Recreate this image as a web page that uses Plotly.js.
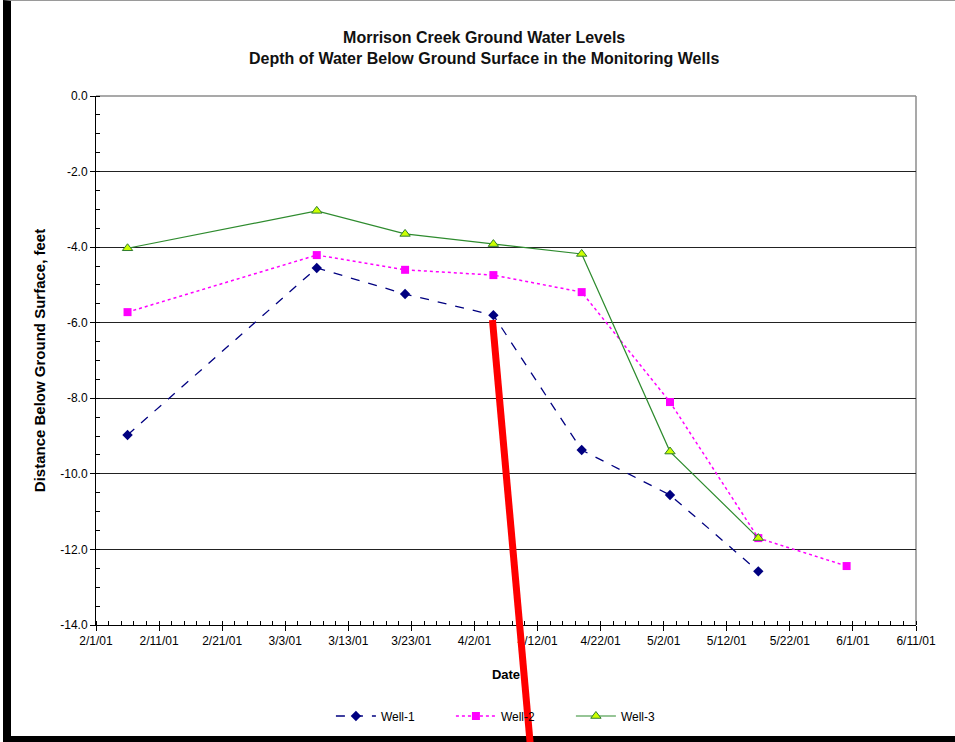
<!DOCTYPE html>
<html><head><meta charset="utf-8">
<script src="https://cdn.plot.ly/plotly-3.0.1.min.js"></script>
<style>
body{margin:0;background:#fff;}
#wrap{position:relative;width:955px;height:742px;overflow:hidden;background:#fff;}
#frame{position:absolute;left:3px;top:0;width:1000px;height:742px;box-sizing:border-box;border-left:8px solid #000;border-top:1px solid #9a9a9a;border-bottom:6px solid #000;}
#chart{position:absolute;left:0;top:0;width:955px;height:742px;}
</style></head><body>
<div id="wrap"><div id="frame"></div><div id="chart"></div></div>
<script>
// Sampling dates
const dates = ['2001-02-06','2001-03-08','2001-03-22','2001-04-05','2001-04-19','2001-05-03','2001-05-17','2001-05-31'];
// Depth of water below ground surface, feet (negative = below)
const well1 = [-8.97, -4.55, -5.24, -5.80, -9.37, -10.56, -12.58, null];
const well2 = [-5.72, -4.21, -4.60, -4.74, -5.19, -8.10, -11.70, -12.44];
const well3 = [-4.03, -3.04, -3.65, -3.92, -4.18, -9.41, -11.70, null];
const seriesNames = ['Well-1','Well-2','Well-3'];
// Y axis tick values and labels
const yTickVals = [0, -2, -4, -6, -8, -10, -12, -14];
const yTickText = ['0.0', '-2.0', '-4.0', '-6.0', '-8.0', '-10.0', '-12.0', '-14.0'];

const FONT = 'Arial, "Liberation Sans", sans-serif';

const traces = [
  {x: dates, y: well1, name: seriesNames[0], type: 'scatter', mode: 'lines+markers',
   line: {color: '#000080', width: 1.3, dash: 'dash'},
   marker: {symbol: 'diamond', size: 8, color: '#000080'}},
  {x: dates, y: well2, name: seriesNames[1], type: 'scatter', mode: 'lines+markers',
   line: {color: '#ff00ff', width: 1.5, dash: 'dot'},
   marker: {symbol: 'square', size: 8, color: '#ff00ff'}},
  {x: dates, y: well3, name: seriesNames[2], type: 'scatter', mode: 'lines+markers',
   line: {color: '#2e8b2e', width: 1.2},
   marker: {symbol: 'triangle-up', size: 9, color: '#ccff00', line: {color: '#2e7d2e', width: 1}}}
];

const layout = {
  width: 955, height: 742,
  paper_bgcolor: 'rgba(0,0,0,0)', plot_bgcolor: '#fff',
  margin: {l: 96, r: 39, t: 96, b: 117},
  font: {family: FONT, size: 12, color: '#000'},
  title: {text: '<b>Morrison Creek Ground Water Levels</b><br><b>Depth of Water Below Ground Surface in the Monitoring Wells</b>',
          font: {family: FONT, size: 16, color: '#111'},
          x: 0.507, xanchor: 'center', xref: 'container', y: 0.942, yanchor: 'top', yref: 'container'},
  xaxis: {type: 'date', range: ['2001-02-01', '2001-06-11'], tick0: '2001-02-01', dtick: 864000000,
          tickformat: '%-m/%-d/%y', ticks: 'outside', ticklen: 5, tickcolor: '#000',
          showline: true, linecolor: '#000', linewidth: 1, showgrid: false, zeroline: false,
          tickfont: {family: FONT, size: 12, color: '#000'},
          minor: {dtick: 172800000, tick0: '2001-02-01', ticks: 'inside', ticklen: 4, tickcolor: '#000', showgrid: false},
          title: {text: '<b>Date</b>', font: {family: FONT, size: 13, color: '#000'}, standoff: 22}},
  yaxis: {range: [-14, 0], tickmode: 'array', tickvals: yTickVals, ticktext: yTickText,
          ticks: 'outside', ticklen: 5, tickcolor: '#000',
          showline: true, linecolor: '#000', linewidth: 1, showgrid: true, gridcolor: '#222', gridwidth: 1,
          zeroline: false, tickfont: {family: FONT, size: 12, color: '#000'},
          minor: {dtick: 0.5, ticks: 'inside', ticklen: 4, tickcolor: '#000', showgrid: false},
          title: {text: '<b>Distance Below Ground Surface, feet</b>', font: {family: FONT, size: 15, color: '#000'}, standoff: 10}},
  showlegend: true,
  legend: {orientation: 'h', x: 0.506, xanchor: 'center', y: -0.172, yanchor: 'middle',
           font: {family: FONT, size: 12, color: '#000'}, bgcolor: 'rgba(0,0,0,0)',
           entrywidth: 65, entrywidthmode: 'pixels', itemwidth: 40},
  shapes: [
    {type: 'line', xref: 'paper', yref: 'paper', x0: 0, x1: 1, y0: 1, y1: 1, line: {color: '#8c8c8c', width: 1.5}, layer: 'below'},
    {type: 'line', xref: 'paper', yref: 'paper', x0: 1, x1: 1, y0: 0, y1: 1, line: {color: '#8c8c8c', width: 1.5}, layer: 'below'},
    {type: 'line', xref: 'paper', yref: 'paper', x0: 0.4835, y0: 0.5766, x1: 0.5302, y1: -0.2363, line: {color: '#ff0000', width: 7}, layer: 'above'}
  ]
};

Plotly.newPlot('chart', traces, layout, {displayModeBar: false, staticPlot: true});
</script>
</body></html>
